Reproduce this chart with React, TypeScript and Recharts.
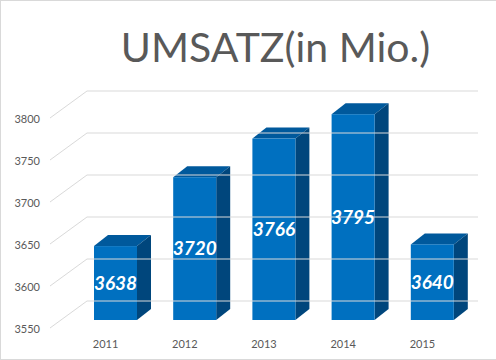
import { BarChart, Bar, XAxis, YAxis, LabelList } from 'recharts'

const years = ['2011', '2012', '2013', '2014', '2015']
const umsatz = [3638, 3720, 3766, 3795, 3640]
const yTicks = [3550, 3600, 3650, 3700, 3750, 3800]

const data = years.map((year, i) => ({ year, umsatz: umsatz[i] }))

const FONT = 'Lato, "Open Sans", sans-serif'
const GRID = '#d9d9d9'
const TEXT = '#595959'

// 3d look: depth of the bars and of the floor
const BAR_DX = 14
const BAR_DY = 11

function YTick(props: any) {
    const { y, payload } = props
    return (
        <g>
            <line x1={50} y1={y + 8} x2={87} y2={y - 19} stroke={GRID} />
            <line x1={87} y1={y - 19} x2={478} y2={y - 19} stroke={GRID} />
            <text
                x={40}
                y={y + 8}
                textAnchor="end"
                dominantBaseline="central"
                fill={TEXT}
                fontSize={11}
                fontFamily={FONT}
            >
                {payload.value}
            </text>
        </g>
    )
}

function XTick(props: any) {
    const { x, y, payload } = props
    return (
        <text
            x={x - 10}
            y={y + 23}
            textAnchor="middle"
            dominantBaseline="central"
            fill={TEXT}
            fontSize={11}
            fontFamily={FONT}
        >
            {payload.value}
        </text>
    )
}

function Box3D(props: any) {
    const { x, y, width, height } = props
    const r = x + width
    const b = y + height
    return (
        <g>
            <polygon
                points={`${x},${y} ${x + BAR_DX},${y - BAR_DY} ${r + BAR_DX},${y - BAR_DY} ${r},${y}`}
                fill="#00599c"
            />
            <polygon
                points={`${r},${y} ${r + BAR_DX},${y - BAR_DY} ${r + BAR_DX},${b - BAR_DY} ${r},${b}`}
                fill="#00467c"
            />
            <rect x={x} y={y} width={width} height={height} fill="#0070c0" />
        </g>
    )
}

export default function App() {
    return (
        <div style={{ position: 'absolute', left: 0, top: 0, width: 496, height: 360, background: '#fff' }}>
            <BarChart
                width={496}
                height={360}
                data={data}
                margin={{ top: 110, right: 24, bottom: 10, left: 0 }}
            >
                <YAxis
                    domain={[3550, 3800]}
                    ticks={yTicks}
                    interval={0}
                    width={76}
                    axisLine={false}
                    tickLine={false}
                    tickSize={0}
                    tickMargin={0}
                    tick={<YTick />}
                />
                <XAxis
                    dataKey="year"
                    height={30}
                    axisLine={false}
                    tickLine={false}
                    tickSize={0}
                    tickMargin={0}
                    interval={0}
                    tick={<XTick />}
                />
                <Bar dataKey="umsatz" barSize={43} shape={<Box3D />} isAnimationActive={false}>
                    <LabelList
                        dataKey="umsatz"
                        position="center"
                        fill="#fff"
                        fontSize={19}
                        fontWeight="bold"
                        fontStyle="italic"
                        fontFamily={FONT}
                    />
                </Bar>
            </BarChart>
            <div
                style={{
                    position: 'absolute',
                    left: 0,
                    top: 26,
                    width: 551,
                    textAlign: 'center',
                    fontFamily: FONT,
                    fontSize: 41,
                    lineHeight: '41px',
                    color: TEXT,
                    whiteSpace: 'nowrap',
                }}
            >
                UMSATZ(in Mio.)
            </div>
            <div
                style={{
                    position: 'absolute',
                    left: 0,
                    top: 0,
                    width: 496,
                    height: 360,
                    boxSizing: 'border-box',
                    borderLeft: `1px solid ${GRID}`,
                    borderTop: `1px solid ${GRID}`,
                    borderBottom: `1px solid ${GRID}`,
                    pointerEvents: 'none',
                }}
            />
        </div>
    )
}
